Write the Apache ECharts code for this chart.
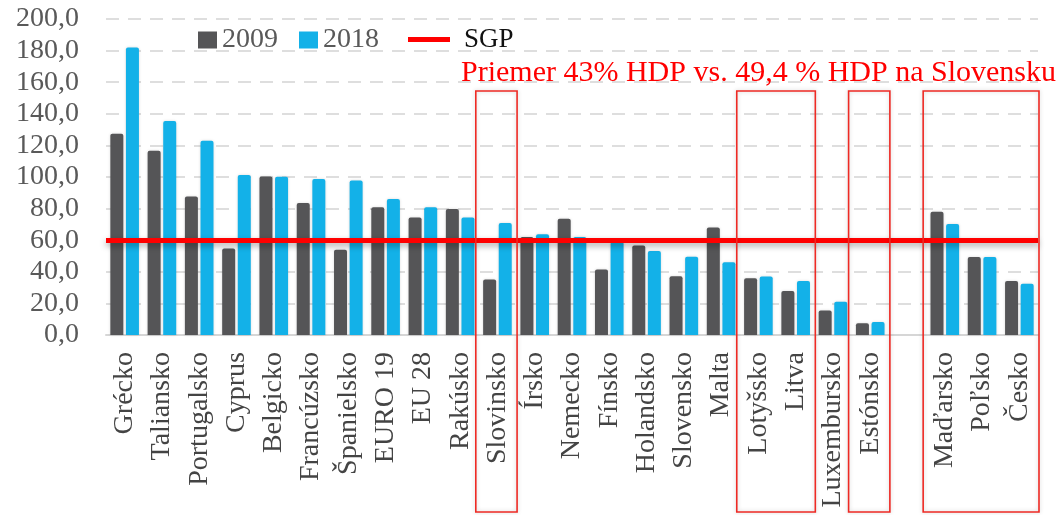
<!DOCTYPE html>
<html>
<head>
<meta charset="utf-8">
<script src="https://cdn.jsdelivr.net/npm/echarts@6/dist/echarts.min.js"></script>
<style>
html,body{margin:0;padding:0;background:#fff;}
#chart{width:1061px;height:515px;}
</style>
</head>
<body>
<div id="chart"></div>
<script>
const categories = ['Grécko','Taliansko','Portugalsko','Cyprus','Belgicko','Francúzsko','Španielsko','EURO 19','EU 28','Rakúsko','Slovinsko','Írsko','Nemecko','Fínsko','Holandsko','Slovensko','Malta','Lotyšsko','Litva','Luxembursko','Estónsko','','Maďarsko','Poľsko','Česko'];
const values2009 = [127.3,116.6,87.7,54.7,100.3,83.5,54.0,80.8,74.4,79.7,35.1,62.1,73.6,41.4,56.6,37.2,68.1,35.9,27.9,15.5,7.5,null,78.0,49.4,34.2];
const values2018 = [181.9,135.4,122.9,101.2,100.2,98.7,97.8,86.1,80.8,74.4,70.9,63.7,62.1,59.0,53.2,49.6,46.0,37.0,34.2,21.0,8.3,null,70.3,49.4,32.5];
const SGP_VALUE = 60;
const seriesNames = ['2009','2018','SGP'];
const yTicks = {min:0, max:200, interval:20};
const annotationText = 'Priemer 43% HDP vs. 49,4 % HDP na Slovensku';
const boxedGroups = [['Slovinsko','Slovinsko'],['Lotyšsko','Litva'],['Estónsko','Estónsko'],['Maďarsko','Česko']];

const FONT = 'Liberation Serif';
const chart = echarts.init(document.getElementById('chart'));
const option = {
  animation:false,
  backgroundColor:'#fff',
  grid:{left:106, right:23, top:19, bottom:180},
  legend:[
    {data:[seriesNames[0],seriesNames[1]], left:193, top:21, itemWidth:19, itemHeight:17, itemGap:21, icon:'rect',
     textStyle:{fontFamily:FONT, fontSize:28, color:'#595959'}},
    {data:[{name:seriesNames[2], icon:'rect'}], left:403, top:21, itemWidth:42, itemHeight:5,
     textStyle:{fontFamily:FONT, fontSize:27, color:'#111', padding:[0,0,0,9]}}
  ],
  xAxis:{
    type:'category', data:categories,
    axisLine:{lineStyle:{color:'#d6d6d6', width:2}},
    axisTick:{show:false},
    axisLabel:{interval:0, rotate:90, margin:17, fontFamily:FONT, fontSize:28, color:'#444444'}
  },
  yAxis:{
    type:'value', min:yTicks.min, max:yTicks.max, interval:yTicks.interval,
    axisLine:{show:false}, axisTick:{show:false},
    axisLabel:{margin:27, fontFamily:FONT, fontSize:28, color:'#595959',
      formatter:v=>v.toFixed(1).replace('.',',')},
    splitLine:{lineStyle:{color:'#d3d3d3', width:1.5, type:[13,9]}}
  },
  series:[
    {name:seriesNames[0], type:'bar', data:values2009, barWidth:13, barGap:'20%',
     itemStyle:{color:'#555557', borderRadius:[2,2,0,0], shadowColor:'rgba(0,0,0,0.15)', shadowBlur:3}},
    {name:seriesNames[1], type:'bar', data:values2018, barWidth:13,
     itemStyle:{color:'#13b1e8', borderRadius:[2,2,0,0], shadowColor:'rgba(0,0,0,0.15)', shadowBlur:3}},
    {name:seriesNames[2], type:'line', data:[], symbol:'none', itemStyle:{color:'#ff0000'},
     lineStyle:{color:'#ff0000', width:5},
     markLine:{silent:true, symbol:'none', label:{show:false},
       lineStyle:{color:'#ff0000', width:5, type:'solid', shadowColor:'rgba(0,0,0,0.35)', shadowBlur:6, shadowOffsetY:3},
       data:[{yAxis:SGP_VALUE}]}}
  ]
};
chart.setOption(option);

function drawOverlays(){
  const c0 = chart.convertToPixel({xAxisIndex:0}, 0);
  const c1 = chart.convertToPixel({xAxisIndex:0}, 1);
  const band = c1 - c0;
  const els = boxedGroups.map(([a,b])=>{
    const ia = categories.indexOf(a), ib = categories.indexOf(b);
    const x1 = chart.convertToPixel({xAxisIndex:0}, ia) - band/2 - 3;
    const x2 = chart.convertToPixel({xAxisIndex:0}, ib) + band/2 + 1;
    return {type:'rect', z:100, shape:{x:x1, y:91, width:x2-x1, height:421},
      style:{fill:'none', stroke:'#ee2a24', lineWidth:1.6, shadowColor:'rgba(0,0,0,0.2)', shadowBlur:4}};
  });
  els.push({type:'text', z:101, left:461, top:58,
    style:{text:annotationText, fill:'#ff0000', font:'30px "Liberation Serif"'}});
  chart.setOption({graphic:els});
}
drawOverlays();
</script>
</body>
</html>
